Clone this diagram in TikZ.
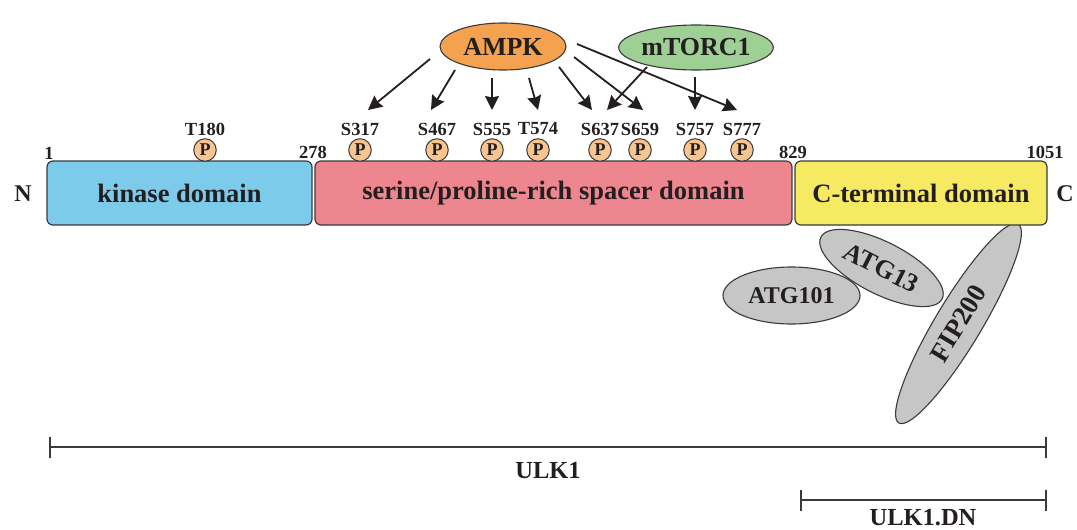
\documentclass[tikz,border=0pt]{standalone}
\usepackage{fontspec}
\setmainfont{Liberation Serif}
\usetikzlibrary{shapes.geometric,arrows.meta}

\definecolor{ink}{HTML}{231F20}
\definecolor{edge}{HTML}{3A3A3A}
\definecolor{kinfill}{HTML}{7DCBEA}
\definecolor{serfill}{HTML}{EE868F}
\definecolor{ctfill}{HTML}{F6EA62}
\definecolor{ampkfill}{HTML}{F4A24F}
\definecolor{mtorfill}{HTML}{9ECF94}
\definecolor{phosfill}{HTML}{F8C490}
\definecolor{partfill}{HTML}{C6C6C6}

\tikzset{
  domainbox/.style={draw=edge, line width=1.2pt, rounded corners=6pt,
    minimum height=64pt, inner sep=0pt, text=ink,
    font=\fontsize{26.5}{30}\selectfont\bfseries},
  phos/.style={circle, draw=edge, line width=1pt, fill=phosfill,
    minimum size=22.5pt, inner sep=0pt, text=ink,
    font=\fontsize{18}{18}\selectfont\bfseries},
  sitelabel/.style={text=ink, inner sep=0pt,
    font=\fontsize{18.5}{20}\selectfont\bfseries},
  bound/.style={text=ink, inner sep=0pt,
    font=\fontsize{18.5}{20}\selectfont\bfseries},
  terminus/.style={text=ink, inner sep=0pt,
    font=\fontsize{24}{26}\selectfont\bfseries},
  kinase/.style={ellipse, draw=edge, line width=1.1pt, inner sep=0pt,
    text=ink, font=\fontsize{26}{28}\selectfont\bfseries},
  partner/.style={ellipse, draw=edge, line width=1.1pt, fill=partfill,
    inner sep=0pt, text=ink, font=\fontsize{24}{26}\selectfont\bfseries},
  arr/.style={draw=ink, line width=1.8pt,
    -{Stealth[length=14pt,width=14pt,inset=1.5pt]}},
  bar/.style={draw=edge, line width=2.6pt},
  tick/.style={draw=edge, line width=2pt},
  barlabel/.style={text=ink, inner sep=0pt,
    font=\fontsize{24.5}{26}\selectfont\bfseries},
}

\begin{document}
\begin{tikzpicture}[x=1pt, y=-1pt]
\useasboundingbox (0,0) rectangle (1077,530);

% interacting partners below the C-terminal domain
\node[partner, minimum width=137pt, minimum height=57pt] (atg101) at (791.5,295.5) {ATG101};
\node[partner, minimum width=232pt, minimum height=46pt, rotate=59,
      font=\fontsize{27}{28}\selectfont\bfseries] (fip) at (958.5,323.5) {FIP200};
\node[partner, minimum width=136pt, minimum height=52pt, rotate=-27,
      font=\fontsize{26}{28}\selectfont\bfseries] (atg13) at (881.5,268) {ATG13};

% ULK1 domain architecture
\node[domainbox, fill=kinfill, minimum width=265pt] (kin) at (179.5,193) {kinase domain};
\node[domainbox, fill=serfill, minimum width=477pt] (ser) at (553.5,193) {serine/proline-rich spacer domain};
\node[domainbox, fill=ctfill, minimum width=252pt] (ct) at (921,193) {C-terminal domain};

\node[terminus] (nterm) at (23,194) {N};
\node[terminus] (cterm) at (1065,194) {C};

% residue boundaries
\node[bound] (b1) at (49,153) {1};
\node[bound] (b278) at (313,152) {278};
\node[bound] (b829) at (793,152) {829};
\node[bound] (b1051) at (1045,152) {1051};

% phosphorylation sites
\foreach \nm/\x/\lab in {p180/205/T180, p317/360/S317, p467/437/S467, p555/492/S555,
    p574/538/T574, p637/600/S637, p659/640/S659, p757/695/S757, p777/742/S777} {
  \node[phos] (\nm) at (\x,150) {P};
  \node[sitelabel] (\nm l) at (\x,129) {\lab};
}

% upstream kinases
\node[kinase, fill=ampkfill, minimum width=126pt, minimum height=47pt] (ampk) at (503,46.5) {AMPK};
\node[kinase, fill=mtorfill, minimum width=126pt, minimum height=45pt] (mtor) at (696,47.5) {mTORC1};

% arrow ends
\coordinate (a1) at (430,59);  \coordinate (t317) at (368,110);
\coordinate (a2) at (455,70);  \coordinate (t467) at (431,110);
\coordinate (a3) at (492,78);  \coordinate (t555) at (492,110);
\coordinate (a4) at (529,78);  \coordinate (t574) at (538,110);
\coordinate (a5) at (559,67);  \coordinate (t637a) at (592,110);
\coordinate (a6) at (574,57);  \coordinate (t659) at (643,110);
\coordinate (a7) at (577,44);  \coordinate (t777) at (737,110);
\coordinate (m1) at (647,67);  \coordinate (t637b) at (607,110);
\coordinate (m2) at (695,77);  \coordinate (t757) at (695,110);

\foreach \s/\t in {a1/t317, a2/t467, a3/t555, a4/t574, a5/t637a, a6/t659, a7/t777, m1/t637b, m2/t757}
  \draw[arr] (\s) -- (\t);

% length scale bars
\coordinate (u0) at (50,447);  \coordinate (u1) at (1046,447);
\coordinate (d0) at (801,500); \coordinate (d1) at (1046,500);
\draw[bar] (u0) -- (u1);
\draw[tick] ([yshift=10.5pt]u0) -- ([yshift=-10.5pt]u0);
\draw[tick] ([yshift=10.5pt]u1) -- ([yshift=-10.5pt]u1);
\node[barlabel] (ulk) at (548,471) {ULK1};
\draw[bar] (d0) -- (d1);
\draw[tick] ([yshift=10.5pt]d0) -- ([yshift=-10.5pt]d0);
\draw[tick] ([yshift=10.5pt]d1) -- ([yshift=-10.5pt]d1);
\node[barlabel] (ulkdn) at (923,518) {ULK1.DN};
\end{tikzpicture}
\end{document}
